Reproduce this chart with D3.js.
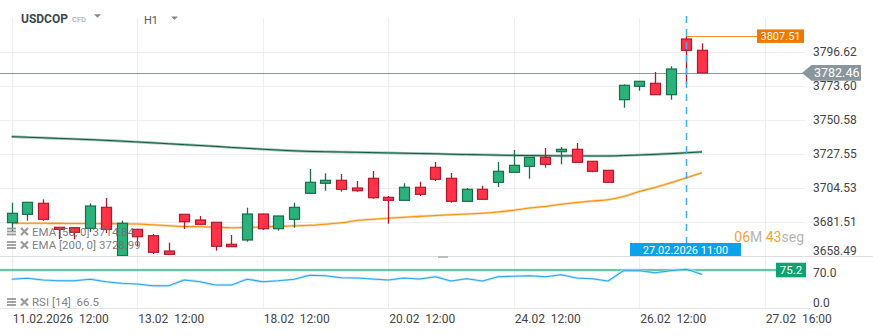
<!DOCTYPE html>
<html>
<head>
<meta charset="utf-8">
<script src="https://cdn.jsdelivr.net/npm/d3@7"></script>
<style>
  body { margin: 0; background: #fff; }
  svg { display: block; font-family: Roboto, "Noto Sans", sans-serif; }
</style>
</head>
<body>
<svg id="chart" width="873" height="335"></svg>
<script>
// USDCOP, H1 candles
const opens  = [3681.04, 3686.72, 3694.17, 3677.92, 3677.65, 3677.24, 3691.46, 3658.69, 3676.56, 3672.23, 3661.87, 3686.72, 3682.87, 3681.31, 3666.40, 3669.32, 3686.92, 3676.97, 3683.34, 3700.94, 3707.71, 3709.75, 3704.53, 3711.10, 3698.23, 3696.20, 3705.03, 3718.55, 3711.10, 3695.52, 3703.66, 3708.39, 3715.16, 3719.22, 3725.32, 3729.11, 3730.73, 3722.61, 3716.51, 3764.32, 3773.39, 3775.43, 3767.71, 3805.42, 3797.77];
const highs  = [3694.58, 3695.05, 3696.88, 3678.12, 3677.92, 3694.17, 3697.76, 3682.39, 3676.77, 3673.38, 3667.50, 3686.92, 3685.58, 3681.51, 3672.71, 3691.19, 3687.13, 3685.78, 3694.58, 3717.40, 3714.48, 3714.01, 3709.27, 3716.04, 3699.11, 3707.71, 3708.80, 3722.14, 3714.69, 3704.53, 3705.88, 3722.14, 3730.25, 3725.52, 3731.61, 3732.29, 3735.00, 3722.81, 3716.72, 3774.75, 3776.98, 3783.08, 3786.94, 3807.51, 3802.51];
const lows   = [3674.94, 3682.39, 3682.39, 3670.00, 3669.79, 3674.74, 3674.06, 3657.80, 3664.79, 3659.85, 3659.50, 3676.77, 3679.82, 3662.08, 3664.58, 3668.17, 3676.09, 3675.62, 3677.65, 3700.81, 3702.70, 3702.02, 3702.02, 3697.29, 3680.35, 3696.00, 3699.11, 3709.27, 3694.58, 3695.39, 3696.75, 3705.21, 3715.03, 3710.83, 3718.28, 3720.57, 3721.80, 3715.16, 3708.25, 3758.90, 3770.41, 3767.51, 3764.32, 3774.95, 3782.46];
const closes = [3687.40, 3694.85, 3683.34, 3676.56, 3674.54, 3692.34, 3676.56, 3680.63, 3671.55, 3661.00, 3659.63, 3681.71, 3679.95, 3665.06, 3664.79, 3686.92, 3676.97, 3685.58, 3691.46, 3708.39, 3709.75, 3703.66, 3702.70, 3697.96, 3696.20, 3705.03, 3700.27, 3710.42, 3695.52, 3703.66, 3696.88, 3715.84, 3719.89, 3725.32, 3720.57, 3730.73, 3721.93, 3715.84, 3708.39, 3774.07, 3776.78, 3767.71, 3785.11, 3797.77, 3782.46];

const ema50  = [3680.63, 3680.63, 3680.63, 3680.56, 3680.49, 3680.49, 3680.43, 3680.36, 3680.16, 3679.62, 3678.94, 3678.47, 3678.33, 3677.99, 3677.65, 3677.86, 3678.13, 3678.54, 3678.87, 3679.28, 3680.03, 3680.97, 3682.53, 3683.34, 3684.02, 3684.77, 3685.31, 3685.92, 3686.46, 3686.93, 3687.41, 3688.29, 3689.51, 3691.00, 3692.01, 3693.50, 3694.72, 3695.74, 3696.55, 3698.78, 3702.17, 3704.88, 3708.06, 3711.51, 3714.84];
const ema200 = [3739.3, 3738.9, 3738.5, 3738.1, 3737.7, 3737.3, 3736.8, 3736.3, 3735.7, 3735.1, 3734.5, 3733.9, 3733.3, 3732.7, 3732.0, 3731.4, 3730.8, 3730.2, 3729.7, 3729.3, 3729.1, 3728.9, 3728.7, 3728.5, 3728.3, 3728.1, 3727.9, 3727.7, 3727.4, 3727.2, 3727.0, 3726.8, 3726.6, 3726.5, 3726.4, 3726.3, 3726.3, 3726.2, 3726.2, 3726.5, 3726.9, 3727.3, 3727.8, 3728.4, 3728.99];
const rsi14  = [56.8, 58.8, 55.4, 54.1, 54.1, 56.8, 52.1, 48.9, 47.5, 44.2, 44.2, 55.4, 52.1, 45.5, 45.5, 56.8, 52.1, 54.1, 56.8, 64.8, 64.0, 60.0, 59.4, 57.4, 55.4, 59.4, 57.4, 62.0, 53.5, 58.0, 53.5, 62.0, 62.8, 64.0, 62.0, 65.9, 59.4, 58.0, 53.5, 73.9, 73.9, 69.9, 73.9, 76.6, 66.5];

const priceTicks = [3658.49, 3681.51, 3704.53, 3727.55, 3750.58, 3773.60, 3796.62];
const rsiTicks = [0, 70];
const rsiLevel = 75.2;
const timeTickIdx = [0, 8, 16, 24, 32, 40, 48];
const timeTickLabels = ["11.02.2026  12:00", "13.02  12:00", "18.02  12:00", "20.02  12:00", "24.02  12:00", "26.02  12:00", "27.02  16:00"];
const cursorIdx = 43;
const cursorLabel = "27.02.2026 11:00";
const legendItems = [
  { name: "EMA [50, 0]", value: ema50[ema50.length - 1] },
  { name: "EMA [200, 0]", value: ema200[ema200.length - 1] }
];
const rsiLegend = { name: "RSI [14]", value: rsi14[rsi14.length - 1] };

// layout
const plotRight = 805, mainTop = 18, mainBottom = 256, rsiBottom = 308;
const svg = d3.select("#chart");

const x = d3.scaleLinear().domain([0, 48]).range([11.7, 764.8]);
const y = d3.scaleLinear().domain([3658.49, 3819.64]).range([mainBottom, mainTop]);
const yR = d3.scaleLinear().domain([0, 100]).range([rsiBottom, 257.5]);

const GRID = "#efefef";
const UP = "#2bb27b", UP_LINE = "#186d4a";
const DN = "#ff3247", DN_LINE = "#b2192d";

// grid
svg.append("g").selectAll("line").data(timeTickIdx).join("line")
  .attr("x1", d => Math.round(x(d)) + 0.5).attr("x2", d => Math.round(x(d)) + 0.5)
  .attr("y1", mainTop).attr("y2", rsiBottom)
  .attr("stroke", GRID);
svg.append("g").selectAll("line").data(priceTicks.slice(1)).join("line")
  .attr("x1", 0).attr("x2", plotRight)
  .attr("y1", d => Math.round(y(d)) + 0.5).attr("y2", d => Math.round(y(d)) + 0.5)
  .attr("stroke", GRID);
svg.append("line").attr("x1", 0).attr("x2", 873).attr("y1", mainBottom + 0.5).attr("y2", mainBottom + 0.5)
  .attr("stroke", "#dddddd");
svg.append("line").attr("x1", 0).attr("x2", plotRight + 5).attr("y1", rsiBottom + 0.5).attr("y2", rsiBottom + 0.5)
  .attr("stroke", "#e6e6e6");
// pane resize handle
svg.append("rect").attr("x", 438).attr("y", 256).attr("width", 10).attr("height", 2).attr("fill", "#bdbdbd");

// header
const hdr = svg.append("g");
hdr.append("text").attr("x", 21).attr("y", 22.5).attr("font-size", 12).attr("font-weight", 700)
  .attr("fill", "#3b4850").text("USDCOP");
hdr.append("text").attr("x", 72).attr("y", 21.5).attr("font-size", 7.5).attr("fill", "#9a9a9a").text("CFD");
hdr.append("path").attr("d", "M94,14.3 L101,14.3 L97.5,17.8 Z").attr("fill", "#8a8a8a");
hdr.append("text").attr("x", 144).attr("y", 23.5).attr("font-size", 11).attr("fill", "#555").text("H1");
hdr.append("path").attr("d", "M171,16.5 L178,16.5 L174.5,20 Z").attr("fill", "#8a8a8a");

// main pane clip
svg.append("clipPath").attr("id", "mainClip").append("rect")
  .attr("x", 0).attr("y", mainTop).attr("width", plotRight).attr("height", mainBottom - mainTop);
const main = svg.append("g").attr("clip-path", "url(#mainClip)");

const line = (arr, sc) => d3.line().x((d, i) => x(i)).y(d => sc(d)).curve(d3.curveMonotoneX)(arr);

// EMA 200
main.append("path").attr("d", line(ema200, y)).attr("fill", "none")
  .attr("stroke", "#80aa98").attr("stroke-width", 2.6).attr("opacity", 0.8);
main.append("path").attr("d", line(ema200, y)).attr("fill", "none")
  .attr("stroke", "#0f5c3c").attr("stroke-width", 1);
// EMA 50
main.append("path").attr("d", line(ema50, y)).attr("fill", "none")
  .attr("stroke", "#fbc98a").attr("stroke-width", 2.6).attr("opacity", 0.8);
main.append("path").attr("d", line(ema50, y)).attr("fill", "none")
  .attr("stroke", "#f7900f").attr("stroke-width", 1.1);

// last price line
const lastPrice = closes[closes.length - 1];
main.append("line").attr("x1", 0).attr("x2", plotRight)
  .attr("y1", Math.round(y(lastPrice)) + 0.5).attr("y2", Math.round(y(lastPrice)) + 0.5)
  .attr("stroke", "#8c979d").attr("stroke-width", 1);

// candles
const candles = d3.range(opens.length).map(i => ({ i, o: opens[i], h: highs[i], l: lows[i], c: closes[i] }));
const cg = main.append("g").selectAll("g").data(candles).join("g");
cg.append("line")
  .attr("x1", d => Math.round(x(d.i)) + 0.5).attr("x2", d => Math.round(x(d.i)) + 0.5)
  .attr("y1", d => y(d.h)).attr("y2", d => y(d.l))
  .attr("stroke", d => d.c >= d.o ? UP_LINE : DN_LINE).attr("stroke-width", 1.3);
cg.append("rect")
  .attr("x", d => Math.round(x(d.i)) - 4.5).attr("width", 10)
  .attr("y", d => y(Math.max(d.o, d.c)))
  .attr("height", d => Math.max(1, y(Math.min(d.o, d.c)) - y(Math.max(d.o, d.c))))
  .attr("fill", d => d.c >= d.o ? UP : DN)
  .attr("stroke", d => d.c >= d.o ? UP_LINE : DN_LINE).attr("stroke-width", 1.2);

// session high marker
const highMark = d3.max(highs);
const hiIdx = highs.indexOf(highMark);
svg.append("line").attr("x1", x(hiIdx)).attr("x2", 757)
  .attr("y1", Math.round(y(highMark)) + 0.5).attr("y2", Math.round(y(highMark)) + 0.5)
  .attr("stroke", "#f28a2a").attr("stroke-width", 1);
svg.append("rect").attr("x", 757).attr("y", y(highMark) - 6.5).attr("width", 47).attr("height", 13.5)
  .attr("fill", "#f07800");
svg.append("text").attr("x", 780.5).attr("y", y(highMark) + 4).attr("text-anchor", "middle")
  .attr("font-size", 11).attr("fill", "#fff").text(highMark.toFixed(2));

// cursor
const cx = Math.round(x(cursorIdx)) + 0.5;
svg.append("line").attr("x1", cx).attr("x2", cx).attr("y1", mainTop - 2).attr("y2", 243)
  .attr("stroke", "#3aaef0").attr("stroke-width", 1.5).attr("stroke-dasharray", "7,6");

// candle countdown
const cd = svg.append("text").attr("x", 804).attr("y", 242).attr("text-anchor", "end").attr("font-size", 14);
cd.append("tspan").attr("fill", "#f7a13a").text("06");
cd.append("tspan").attr("fill", "#b5b5b5").text("M ");
cd.append("tspan").attr("fill", "#f7a13a").text("43");
cd.append("tspan").attr("fill", "#b5b5b5").text("seg");

svg.append("rect").attr("x", 630).attr("y", 243).attr("width", 111).attr("height", 13).attr("fill", "#0aa2ea");
svg.append("text").attr("x", 685.5).attr("y", 253.5).attr("text-anchor", "middle")
  .attr("font-size", 11).attr("fill", "#fff").text(cursorLabel);

// price axis
const yAxis = svg.append("g").attr("transform", `translate(${plotRight},0)`)
  .call(d3.axisRight(y).tickValues(priceTicks).tickFormat(d3.format(".2f")).tickSize(0).tickPadding(8));
yAxis.select(".domain").remove();
yAxis.selectAll("text").attr("font-size", 12).attr("fill", "#444").attr("font-family", "Roboto, sans-serif")
  .attr("dy", d => d === priceTicks[0] ? "-0.1em" : "0.32em");

// last price tag
const ly = y(lastPrice);
svg.append("path")
  .attr("d", `M802,${ly} L811.5,${ly - 7.8} L861,${ly - 7.8} L861,${ly + 7.8} L811.5,${ly + 7.8} Z`)
  .attr("fill", "#8b969c");
svg.append("text").attr("x", 814).attr("y", ly + 4.3).attr("font-size", 12.5).attr("fill", "#fff")
  .text(lastPrice.toFixed(2));

// RSI pane
const rg = svg.append("g");
rg.append("line").attr("x1", 0).attr("x2", 776).attr("y1", yR(rsiLevel)).attr("y2", yR(rsiLevel))
  .attr("stroke", "#9fe0c5").attr("stroke-width", 2.6).attr("opacity", 0.8);
rg.append("line").attr("x1", 0).attr("x2", 776).attr("y1", yR(rsiLevel)).attr("y2", yR(rsiLevel))
  .attr("stroke", "#16ad76").attr("stroke-width", 1);
rg.append("path").attr("d", line(rsi14, yR)).attr("fill", "none")
  .attr("stroke", "#a8dbf7").attr("stroke-width", 2.4).attr("opacity", 0.7);
rg.append("path").attr("d", d3.line().x((d, i) => x(i)).y(d => yR(d))(rsi14)).attr("fill", "none")
  .attr("stroke", "#25a7ef").attr("stroke-width", 1.1);
rg.append("rect").attr("x", 776).attr("y", yR(rsiLevel) - 7.3).attr("width", 30).attr("height", 14.6)
  .attr("fill", "#0ea36f");
rg.append("text").attr("x", 791).attr("y", yR(rsiLevel) + 4.2).attr("text-anchor", "middle")
  .attr("font-size", 11.5).attr("fill", "#fff").text(rsiLevel.toFixed(1));

const rAxis = svg.append("g").attr("transform", `translate(${plotRight},0)`)
  .call(d3.axisRight(yR).tickValues(rsiTicks).tickFormat(d3.format(".1f")).tickSize(0).tickPadding(8));
rAxis.select(".domain").remove();
rAxis.selectAll("text").attr("font-size", 12).attr("fill", "#444").attr("font-family", "Roboto, sans-serif")
  .attr("dy", d => d === 0 ? "-0.1em" : "0.32em");

// time axis
const xAxis = svg.append("g").attr("transform", `translate(0,${rsiBottom})`)
  .call(d3.axisBottom(x).tickValues(timeTickIdx).tickFormat((d, i) => timeTickLabels[i]).tickSize(0).tickPadding(6));
xAxis.select(".domain").remove();
xAxis.selectAll("text").attr("font-size", 12).attr("fill", "#444").attr("font-family", "Roboto, sans-serif")
  .attr("text-anchor", "start").style("white-space", "pre").attr("dx", "0.5");

// legends
function legendRow(g, yc, label) {
  const col = "#9a9a9a";
  [-3, 0, 3].forEach(o => g.append("rect").attr("x", 7).attr("y", yc + o - 0.9).attr("width", 9).attr("height", 1.8)
    .attr("fill", col));
  g.append("path").attr("d", `M21,${yc - 3.5} L28,${yc + 3.5} M28,${yc - 3.5} L21,${yc + 3.5}`)
    .attr("stroke", col).attr("stroke-width", 2.2);
  g.append("text").attr("x", 32).attr("y", yc + 4).attr("font-size", 11.5).attr("fill", "#707070")
    .attr("fill-opacity", 0.9).style("white-space", "pre").text(label);
}
const lg = svg.append("g");
legendRow(lg, 231.5, `${legendItems[0].name} ${legendItems[0].value.toFixed(2)}`);
legendRow(lg, 245, `${legendItems[1].name} ${legendItems[1].value.toFixed(2)}`);
legendRow(lg, 302, `${rsiLegend.name}  ${rsiLegend.value.toFixed(1)}`);
</script>
</body>
</html>
